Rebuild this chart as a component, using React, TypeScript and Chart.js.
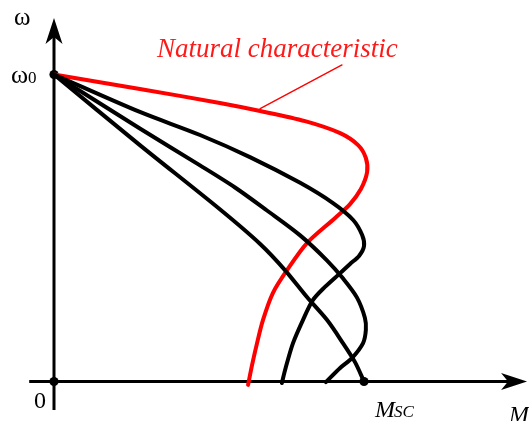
import { useEffect, useRef } from "react";
import { Chart, registerables } from "chart.js";

Chart.register(...registerables);

// Mechanical characteristics of an induction motor: torque M versus speed ω,
// both normalised (M_SC = 1, ω0 = 1).
const naturalM = [0, 0.277, 0.535, 0.665, 0.81, 0.923, 0.981, 1.006, 1.01, 0.99, 0.955, 0.906, 0.816, 0.752, 0.706, 0.674, 0.655, 0.639, 0.626];
const naturalW = [1, 0.953, 0.907, 0.881, 0.848, 0.809, 0.77, 0.728, 0.682, 0.627, 0.578, 0.532, 0.451, 0.363, 0.288, 0.2, 0.125, 0.054, -0.011];

const curveAM = [0, 0.277, 0.471, 0.632, 0.794, 0.9, 0.965, 0.994, 1.0, 0.984, 0.955, 0.923, 0.874, 0.835, 0.803, 0.771, 0.748, 0.735];
const curveAW = [1, 0.878, 0.803, 0.731, 0.647, 0.581, 0.526, 0.477, 0.441, 0.409, 0.383, 0.353, 0.308, 0.265, 0.2, 0.125, 0.047, -0.005];

const curveBM = [0, 0.277, 0.471, 0.584, 0.687, 0.794, 0.881, 0.932, 0.977, 1.003, 1.006, 0.997, 0.961, 0.923, 0.877];
const curveBW = [1, 0.824, 0.704, 0.632, 0.557, 0.476, 0.394, 0.336, 0.274, 0.207, 0.168, 0.125, 0.076, 0.044, -0.002];

const curveCM = [0, 0.277, 0.535, 0.665, 0.745, 0.816, 0.881, 0.932, 0.971, 1.0];
const curveCW = [1, 0.77, 0.561, 0.448, 0.363, 0.275, 0.2, 0.125, 0.063, 0];

// Marked points: ω0, origin, M_SC
const markerM = [0, 0, 1];
const markerW = [1, 0, 0];

// Leader from the natural curve to its caption
const leaderM = [0.665, 0.929];
const leaderW = [0.889, 1.031];

// Axis extents (data units)
const mAxisRange = [-0.08, 1.526];
const wAxisRange = [-0.093, 1.184];

const captionText = "Natural characteristic";
const omegaText = "ω";
const omegaZeroSub = "0";
const originText = "0";
const mText = "M";
const mscSub = "SC";

const SERIF = "'Liberation Serif', 'Times New Roman', Times, serif";

const pts = (xs: number[], ys: number[]) => xs.map((x, i) => ({ x, y: ys[i] }));

function arrow(ctx: CanvasRenderingContext2D, tx: number, ty: number, dx: number, dy: number) {
  // barbed arrowhead pointing along (dx, dy)
  const len = 26, half = 8.5, notch = 19;
  const px = -dy, py = dx;
  ctx.beginPath();
  ctx.moveTo(tx, ty);
  ctx.lineTo(tx - dx * len + px * half, ty - dy * len + py * half);
  ctx.lineTo(tx - dx * notch, ty - dy * notch);
  ctx.lineTo(tx - dx * len - px * half, ty - dy * len - py * half);
  ctx.closePath();
  ctx.fill();
}

const axesPlugin = {
  id: "motorAxes",
  beforeDatasetsDraw(chart: any) {
    const { ctx, scales } = chart;
    const sx = scales.x, sy = scales.y;
    const x0 = sx.getPixelForValue(0);
    const y0 = sy.getPixelForValue(0);
    const xa = sx.getPixelForValue(mAxisRange[0]);
    const xb = sx.getPixelForValue(mAxisRange[1]);
    const ya = sy.getPixelForValue(wAxisRange[0]);
    const yb = sy.getPixelForValue(wAxisRange[1]);
    ctx.save();
    ctx.strokeStyle = "#000";
    ctx.fillStyle = "#000";
    ctx.lineWidth = 3;
    ctx.beginPath();
    ctx.moveTo(xa, y0);
    ctx.lineTo(xb - 12, y0);
    ctx.stroke();
    ctx.beginPath();
    ctx.moveTo(x0, ya);
    ctx.lineTo(x0, yb + 12);
    ctx.stroke();
    arrow(ctx, xb, y0, 1, 0);
    arrow(ctx, x0, yb, 0, -1);
    ctx.restore();
  },
  afterDraw(chart: any) {
    const { ctx, scales } = chart;
    const sx = scales.x, sy = scales.y;
    const x0 = sx.getPixelForValue(0);
    const y0 = sy.getPixelForValue(0);
    const yw0 = sy.getPixelForValue(1);
    const xsc = sx.getPixelForValue(1);
    ctx.save();
    ctx.textBaseline = "alphabetic";
    ctx.textAlign = "left";
    ctx.fillStyle = "#000";

    // ω axis title
    ctx.font = `25px ${SERIF}`;
    ctx.fillText(omegaText, x0 - 40, 25);

    // ω0 tick label
    ctx.font = `26px ${SERIF}`;
    ctx.fillText(omegaText, x0 - 43, yw0 + 8);
    const ww = ctx.measureText(omegaText).width;
    ctx.font = `17px ${SERIF}`;
    ctx.fillText(omegaZeroSub, x0 - 43 + ww, yw0 + 8.5);

    // origin
    ctx.font = `24px ${SERIF}`;
    ctx.fillText(originText, x0 - 20, y0 + 26);

    // M_SC
    ctx.font = `italic 24px ${SERIF}`;
    ctx.fillText(mText, xsc + 11, y0 + 35);
    const mw = ctx.measureText(mText).width;
    ctx.font = `italic 17px ${SERIF}`;
    ctx.fillText(mscSub, xsc + 11 + mw - 1, y0 + 35);

    // M axis title
    ctx.font = `italic 24px ${SERIF}`;
    ctx.fillText(mText, 509, y0 + 40);

    // caption of the natural characteristic, sized to span 157..398
    ctx.fillStyle = "#ff1a1a";
    ctx.font = `italic 24px ${SERIF}`;
    const cw = ctx.measureText(captionText).width;
    const size = Math.min(30, Math.max(18, (24 * 241) / cw));
    ctx.font = `italic ${size.toFixed(1)}px ${SERIF}`;
    ctx.fillText(captionText, 157, 57);
    ctx.restore();
  },
};

export default function App() {
  const ref = useRef<HTMLCanvasElement | null>(null);

  useEffect(() => {
    if (!ref.current) return;
    const black = { borderColor: "#000", borderWidth: 4 };
    const common = {
      showLine: true,
      pointRadius: 0,
      tension: 0.3,
      fill: false,
      clip: false as any,
      borderCapStyle: "round" as const,
      borderJoinStyle: "round" as const,
    };
    const chart = new Chart(ref.current, {
      type: "scatter",
      data: {
        datasets: [
          { ...common, ...black, data: pts(curveAM, curveAW) },
          { ...common, ...black, data: pts(curveBM, curveBW) },
          { ...common, ...black, data: pts(curveCM, curveCW) },
          { ...common, borderColor: "#ff0000", borderWidth: 4, data: pts(naturalM, naturalW) },
          { ...common, tension: 0, borderColor: "#ff0000", borderWidth: 1.4, data: pts(leaderM, leaderW) },
          {
            data: pts(markerM, markerW),
            showLine: false,
            pointRadius: 4.6,
            pointBackgroundColor: "#000",
            pointBorderWidth: 0,
            clip: false as any,
          },
        ],
      },
      options: {
        animation: false,
        responsive: false,
        events: [],
        layout: { padding: { left: 54, right: 10, top: 13.1, bottom: 39.5 } },
        plugins: { legend: { display: false }, tooltip: { enabled: false } },
        scales: {
          x: { type: "linear", min: 0, max: 1.5, display: false },
          y: { type: "linear", min: 0, max: 1.2, display: false },
        },
      },
      plugins: [axesPlugin],
    });
    // redraw once the serif faces are ready for the canvas
    const fonts = (document as any).fonts;
    if (fonts && fonts.load) {
      Promise.all([
        fonts.load(`24px ${SERIF}`, "ω0"),
        fonts.load(`italic 24px ${SERIF}`, "Natural"),
      ])
        .then(() => chart.draw())
        .catch(() => {});
    }
    return () => chart.destroy();
  }, []);

  return (
    <div style={{ position: "fixed", left: 0, top: 0, width: 529, height: 421, background: "#fff", overflow: "hidden" }}>
      <canvas ref={ref} width={529} height={421} style={{ position: "absolute", left: 0, top: 0 }} />
    </div>
  );
}
